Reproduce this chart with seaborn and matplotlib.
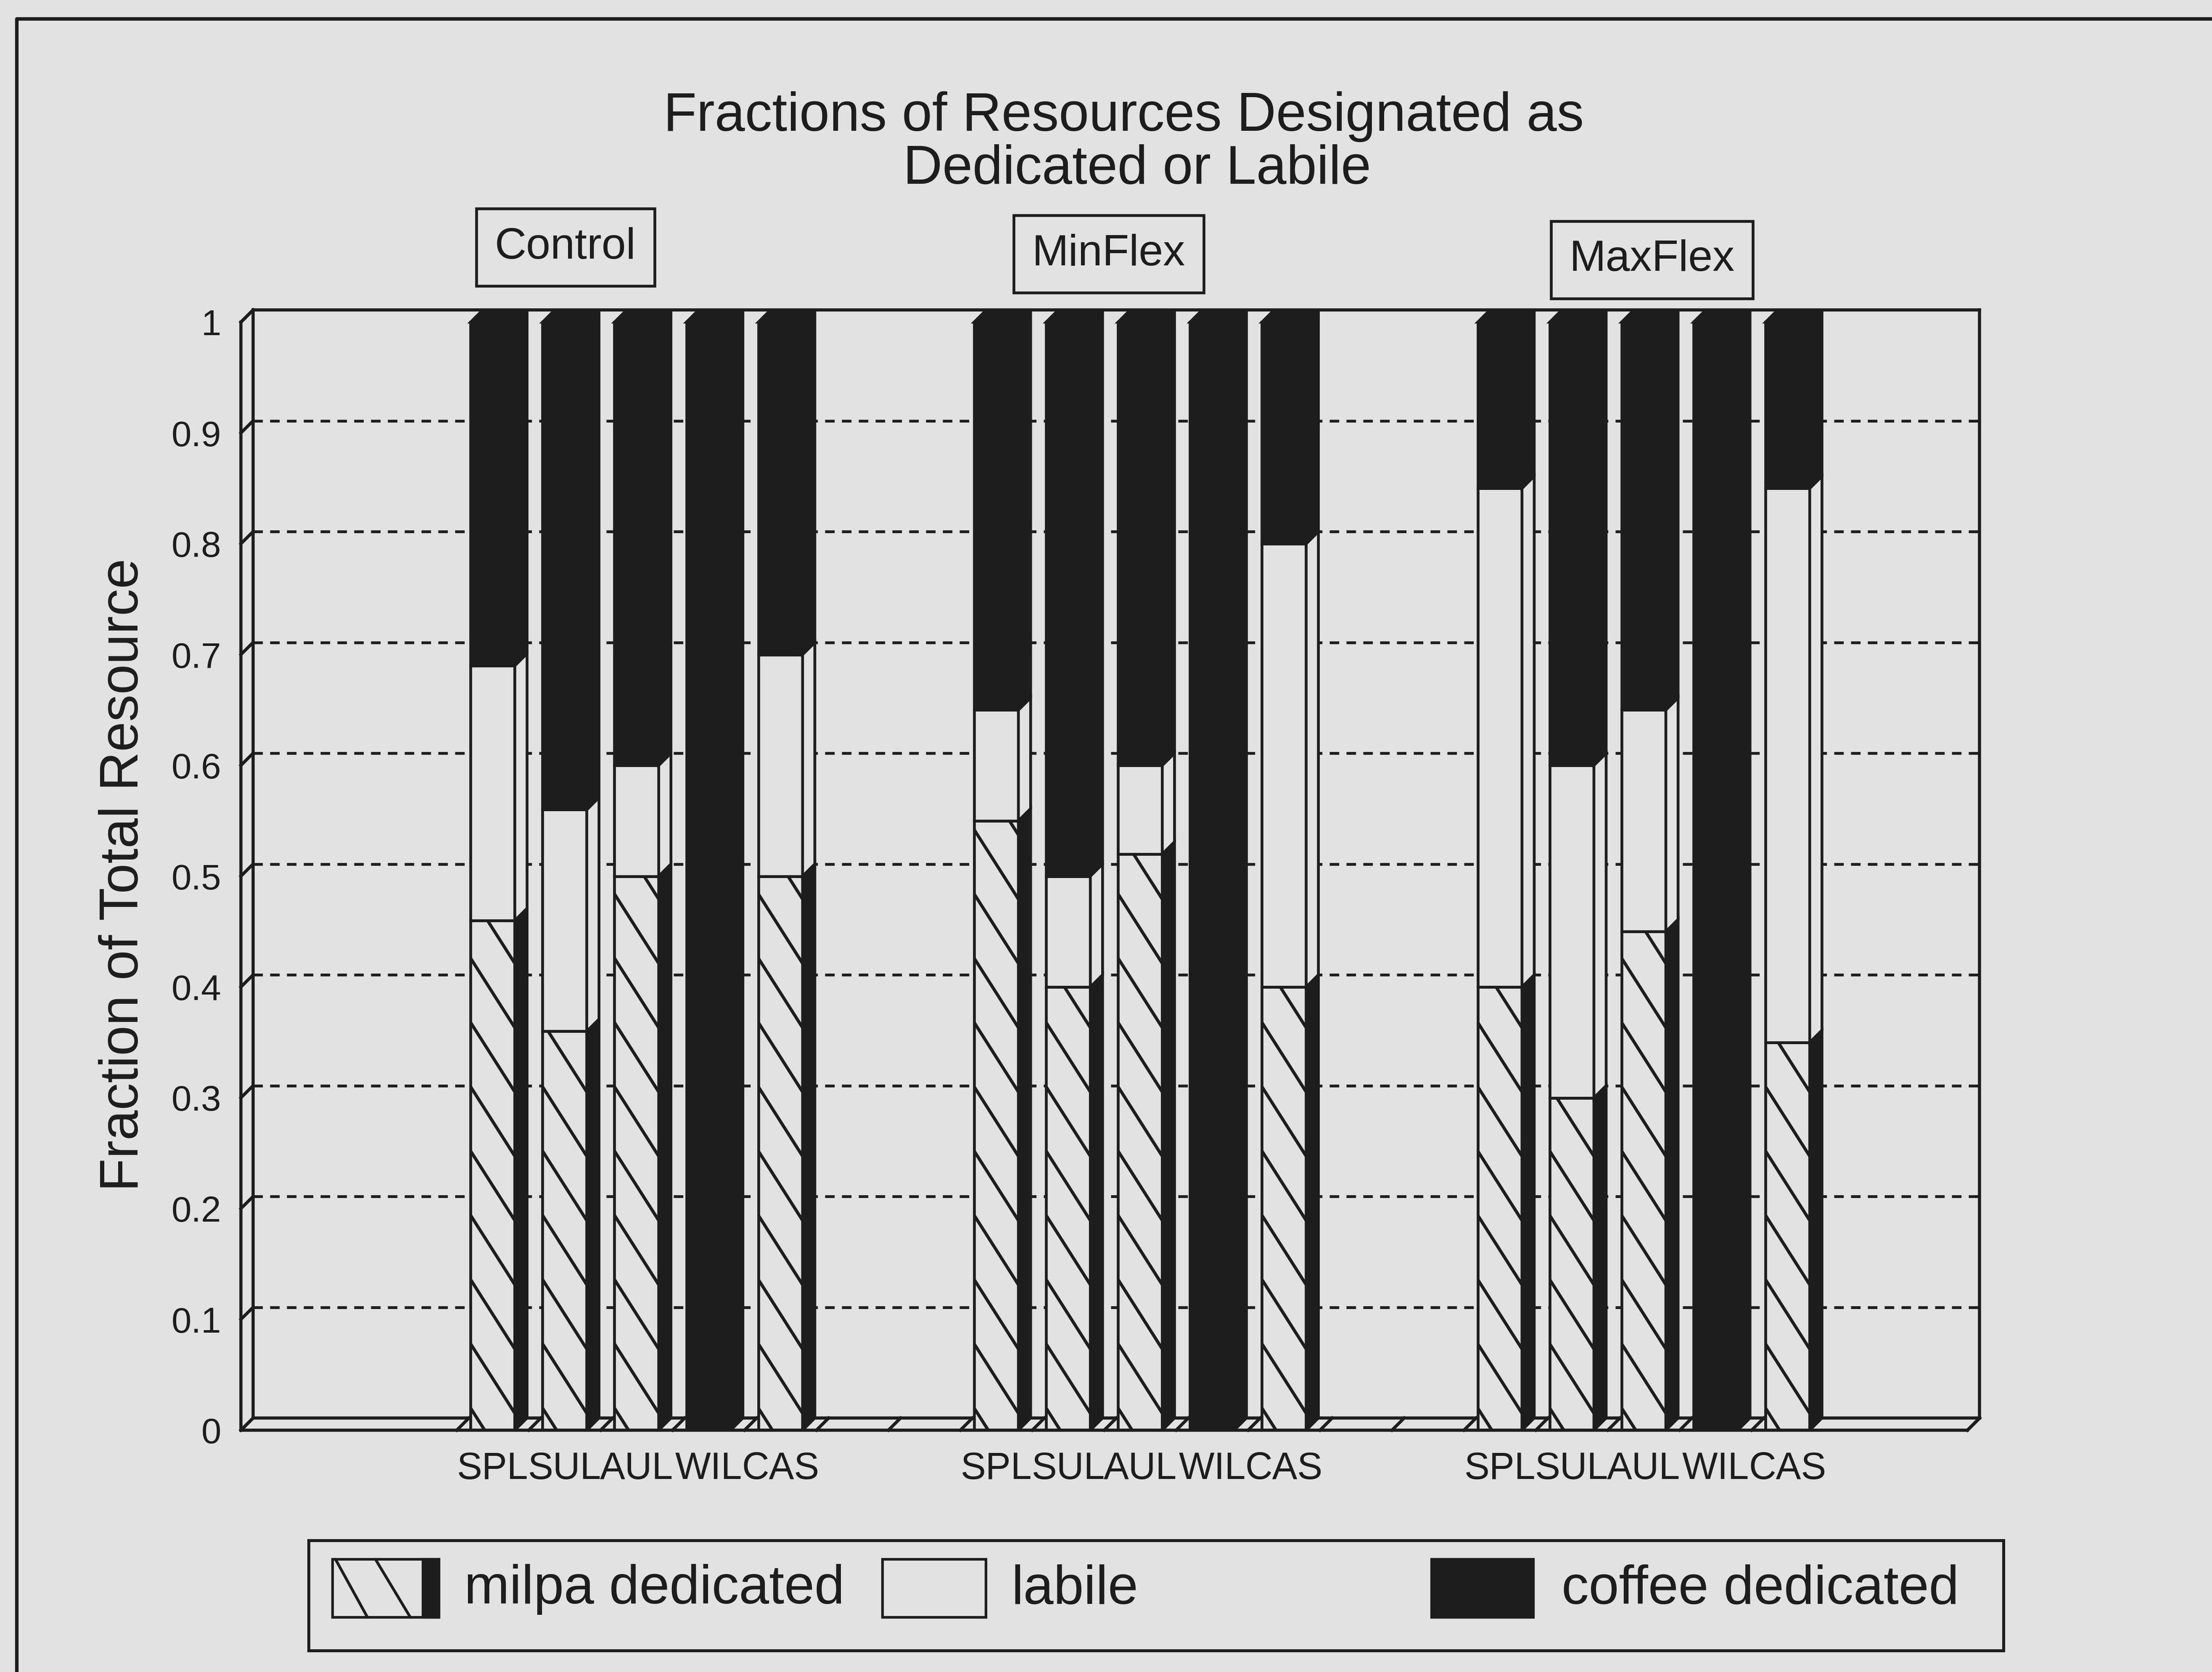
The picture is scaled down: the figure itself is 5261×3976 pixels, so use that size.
import numpy as np
import pandas as pd
import matplotlib
matplotlib.use("Agg")
import matplotlib.pyplot as plt
from matplotlib.patches import Polygon, Rectangle
from matplotlib.lines import Line2D
from matplotlib.collections import LineCollection
import seaborn as sns

# ---------------------------------------------------------------- data
scenarios = ["Control", "MinFlex", "MaxFlex"]
sites = ["SPL", "SUL", "AUL", "WIL", "CAS"]

control_milpa = [0.46, 0.36, 0.50, 0.00, 0.50]
control_labile = [0.23, 0.20, 0.10, 0.00, 0.20]
control_coffee = [0.31, 0.44, 0.40, 1.00, 0.30]

minflex_milpa = [0.55, 0.40, 0.52, 0.00, 0.40]
minflex_labile = [0.10, 0.10, 0.08, 0.00, 0.40]
minflex_coffee = [0.35, 0.50, 0.40, 1.00, 0.20]

maxflex_milpa = [0.40, 0.30, 0.45, 0.00, 0.35]
maxflex_labile = [0.45, 0.30, 0.20, 0.00, 0.50]
maxflex_coffee = [0.15, 0.40, 0.35, 1.00, 0.15]

y_ticks = [0.0, 0.1, 0.2, 0.3, 0.4, 0.5, 0.6, 0.7, 0.8, 0.9, 1.0]
y_tick_labels = ["0", "0.1", "0.2", "0.3", "0.4", "0.5", "0.6", "0.7", "0.8", "0.9", "1"]
legend_labels = ["milpa dedicated", "labile", "coffee dedicated"]

# ---------------------------------------------------------------- style
BG = "#e2e2e2"
INK = "#1d1d1d"
W, H, DPI = 5261, 3976, 300
N_SLOTS = 24            # category slots along the floor
DX, DY = 0.17, 0.011    # oblique depth of the 3-D boxes (slots, fraction)
FACE_W = 0.615          # width of a column's front face
HATCH_STEP = 0.058      # vertical spacing of the milpa hatch
HATCH_SLOPE = 0.102     # fall of a hatch line per slot
EDGE_LW = 1.6

sns.set_theme(style="white")
plt.rcParams["font.family"] = ["Liberation Sans", "DejaVu Sans"]
plt.rcParams["text.color"] = INK


def fx(px):
    return px / W


def fy(py):
    return 1.0 - py / H


# one row per column of the chart; each scenario gets 5 slots plus 2 blank
rows = []
groups = [
    (control_milpa, control_labile, control_coffee),
    (minflex_milpa, minflex_labile, minflex_coffee),
    (maxflex_milpa, maxflex_labile, maxflex_coffee),
]
for g, (name, (m, l, c)) in enumerate(zip(scenarios, groups)):
    for j, site in enumerate(sites):
        rows.append(dict(scenario=name, site=site, slot=3 + 7 * g + j,
                         milpa=m[j], labile=l[j], coffee=c[j]))
df = pd.DataFrame(rows).sort_values("slot").reset_index(drop=True)
df["base_labile"] = df["milpa"]
df["base_coffee"] = df["milpa"] + df["labile"]

# ---------------------------------------------------------------- figure
fig = plt.figure(figsize=(W / DPI, H / DPI), dpi=DPI, facecolor=BG)
slot_px, unit_px = 171.1, 2635.0
ax = fig.add_axes([fx(573), fy(3401), (N_SLOTS + DX) * slot_px / W,
                   (1 + DY) * unit_px / H])
ax.set_facecolor(BG)
ax.set_xlim(-0.5, N_SLOTS - 0.5 + DX)
ax.set_ylim(0, 1 + DY)
for s in ax.spines.values():
    s.set_visible(False)

x_left, x_right = -0.5, N_SLOTS - 0.5
wall_kw = dict(color=INK, lw=1.8, clip_on=False, solid_capstyle="projecting")

# back wall and floor of the 3-D frame
ax.plot([x_left + DX, x_left + DX], [DY, 1 + DY], zorder=1, **wall_kw)
ax.plot([x_left + DX, x_right + DX], [1 + DY, 1 + DY], zorder=1, **wall_kw)
ax.plot([x_right + DX, x_right + DX], [DY, 1 + DY], zorder=1, **wall_kw)
ax.plot([x_left + DX, x_right + DX], [DY, DY], zorder=1, **wall_kw)
ax.plot([x_left, x_left], [0, 1], zorder=5, **wall_kw)
ax.plot([x_left, x_right], [0, 0], zorder=5, **wall_kw)
ax.plot([x_left, x_left + DX], [1, 1 + DY], zorder=5, **wall_kw)
ax.plot([x_right, x_right + DX], [0, DY], zorder=5, **wall_kw)

# dashed gridlines on the back wall, joined to the front axis ticks
for v in y_ticks:
    ax.plot([x_left, x_left + DX], [v, v + DY], zorder=1, **wall_kw)
    if 0 < v < 1:
        ax.plot([x_left + DX, x_right + DX], [v + DY, v + DY], color=INK,
                lw=1.6, dashes=(3.4, 2.6), zorder=0.8)

# slot boundaries on the floor
boundaries = [x_left] + [k - 0.5 for k in range(3, 22)] + [x_right]
for b in boundaries:
    ax.plot([b, b + DX], [0, DY], zorder=1, **wall_kw)


# ---------------------------------------------------------------- columns
def draw_layer(col, base, face, edge):
    n0 = len(ax.patches)
    bottom = df[base].to_numpy() if base else np.zeros(len(df))
    sns.barplot(data=df, x="slot", y=col, native_scale=True, width=FACE_W,
                bottom=bottom, errorbar=None, color=face, saturation=1,
                edgecolor=edge, linewidth=EDGE_LW, zorder=3, ax=ax)
    return list(ax.patches[n0:])


def add_depth(patches, fill, top=False):
    for p in patches:
        x0, y0 = p.get_x(), p.get_y()
        x1, y1 = x0 + p.get_width(), y0 + p.get_height()
        if p.get_height() <= 0:
            continue
        ax.add_patch(Polygon([(x1, y0), (x1 + DX, y0 + DY), (x1 + DX, y1 + DY),
                              (x1, y1)], closed=True, facecolor=fill,
                             edgecolor=INK, lw=EDGE_LW, zorder=3))
        if top:
            ax.add_patch(Polygon([(x0, y1), (x0 + DX, y1 + DY),
                                  (x1 + DX, y1 + DY), (x1, y1)], closed=True,
                                 facecolor=fill, edgecolor=INK, lw=EDGE_LW,
                                 zorder=3))


milpa_bars = draw_layer("milpa", None, BG, INK)
labile_bars = draw_layer("labile", "base_labile", BG, INK)
coffee_bars = draw_layer("coffee", "base_coffee", INK, INK)

add_depth(milpa_bars, INK)
add_depth(labile_bars, BG)
add_depth(coffee_bars, INK, top=True)

# diagonal hatch of the milpa faces
for p in milpa_bars:
    if p.get_height() <= 0:
        continue
    x0, y0 = p.get_x(), p.get_y()
    w, h = p.get_width(), p.get_height()
    drop = w * HATCH_SLOPE
    segs = [[(x0, c), (x0 + w, c - drop)]
            for c in np.arange(y0 + 0.02, y0 + h + drop, HATCH_STEP)]
    lc = LineCollection(segs, colors=INK, linewidths=1.8, zorder=3.5,
                        capstyle="butt")
    ax.add_collection(lc)
    lc.set_clip_path(p)

ax.set_xlabel("")
ax.set_ylabel("")
ax.set_xticks(df["slot"].to_numpy(), df["site"].tolist())
ax.set_xticks(boundaries, minor=True)
ax.tick_params(axis="x", which="major", length=0, pad=12, labelsize=21.5,
               labelcolor=INK)
ax.tick_params(axis="x", which="minor", length=9, width=1.5, color=INK,
               direction="out")
ax.set_yticks(y_ticks, y_tick_labels)
ax.tick_params(axis="y", which="major", length=10.3, width=1.5, color=INK,
               direction="out", pad=1, labelsize=20.5, labelcolor=INK)
ax.set_xlim(-0.5, N_SLOTS - 0.5 + DX)
ax.set_ylim(0, 1 + DY)

# ---------------------------------------------------------------- texts
fig.text(fx(2673), fy(278), "Fractions of Resources Designated as",
         ha="center", va="center", fontsize=31)
fig.text(fx(2704), fy(403), "Dedicated or Labile",
         ha="center", va="center", fontsize=31)
fig.text(fx(295), fy(2080), "Fraction of Total Resource", rotation=90,
         ha="center", va="center", fontsize=31)

for name, (cx, cy) in zip(scenarios, [(1345, 588), (2637, 604), (3929, 618)]):
    fig.text(fx(cx), fy(cy), name, ha="center", va="center", fontsize=25,
             bbox=dict(boxstyle="square,pad=0.42", fc=BG, ec=INK, lw=1.6))

# ---------------------------------------------------------------- legend
fig.patches.append(Rectangle((fx(734), fy(3925)), fx(4765) - fx(734),
                             fy(3663) - fy(3925), transform=fig.transFigure,
                             facecolor=BG, edgecolor=INK, lw=1.7))
sw_top, sw_bot = 3708, 3846
swatches = [(791, 1044), (2099, 2345), (3405, 3647)]
text_x = [1104, 2405, 3714]
fills = [BG, BG, INK]
for (l, r), fill in zip(swatches, fills):
    fig.patches.append(Rectangle((fx(l), fy(sw_bot)), fx(r) - fx(l),
                                 fy(sw_top) - fy(sw_bot),
                                 transform=fig.transFigure, facecolor=fill,
                                 edgecolor=INK, lw=1.5))
# milpa swatch: hatch lines and the dark depth strip
fig.patches.append(Rectangle((fx(1006), fy(sw_bot)), fx(1044) - fx(1006),
                             fy(sw_top) - fy(sw_bot),
                             transform=fig.transFigure, facecolor=INK,
                             edgecolor=INK, lw=1.5))
for xa, xb in [(798, 874), (893, 976)]:
    fig.lines.append(Line2D([fx(xa), fx(xb)], [fy(sw_top), fy(sw_bot)],
                            transform=fig.transFigure, color=INK, lw=1.6))
for label, tx in zip(legend_labels, text_x):
    fig.text(fx(tx), fy(3780), label, ha="left", va="center", fontsize=31)

# outer frame
fig.lines.append(Line2D([fx(40), fx(40), 1.0], [0.0, fy(45), fy(45)],
                        transform=fig.transFigure, color=INK, lw=2.0))

fig.savefig("out.png", dpi=DPI, facecolor=BG)
